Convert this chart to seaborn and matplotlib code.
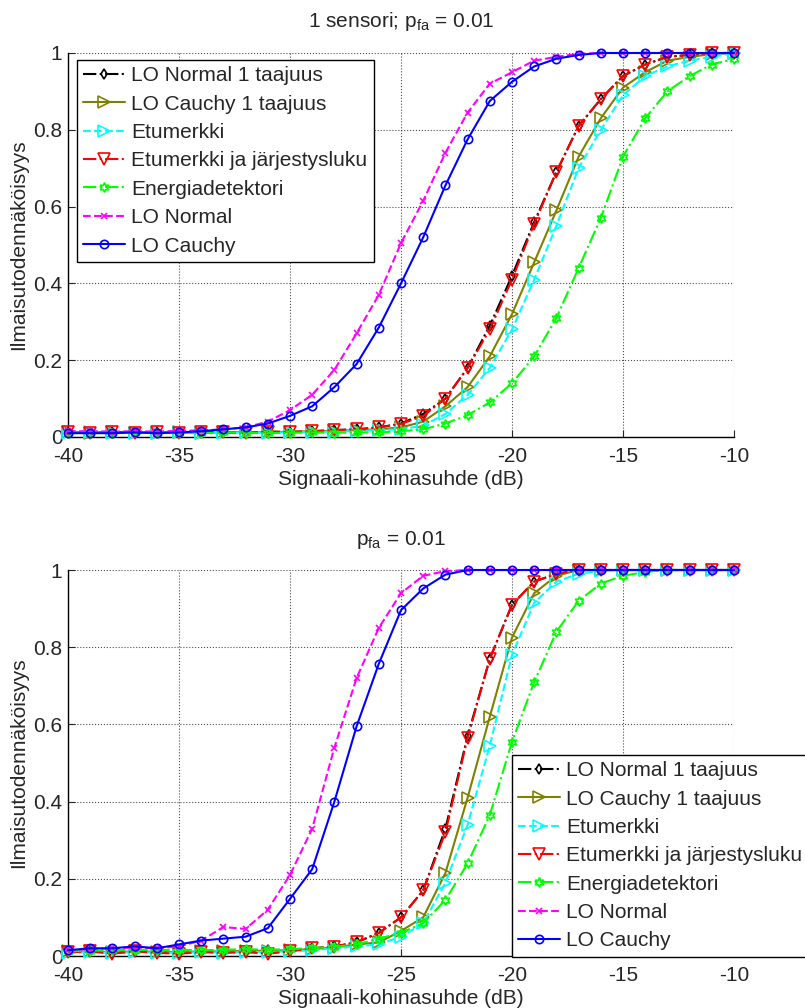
import numpy as np
import pandas as pd
import matplotlib
matplotlib.use("Agg")
import matplotlib.pyplot as plt
import seaborn as sns

snr = list(range(-40, -9))

# --- 1 sensori ---
top_lo_normal_1 = [0.012, 0.010, 0.013, 0.011, 0.012, 0.010, 0.013, 0.012, 0.011, 0.014, 0.013, 0.015, 0.018, 0.020,
                   0.025, 0.035, 0.06, 0.10, 0.18, 0.29, 0.42, 0.56, 0.69, 0.81, 0.88, 0.94, 0.97, 0.99, 0.995, 1.0, 1.0]
top_lo_cauchy_1 = [0.012, 0.011, 0.012, 0.010, 0.011, 0.012, 0.010, 0.012, 0.013, 0.012, 0.014, 0.015, 0.016, 0.018,
                   0.02, 0.025, 0.04, 0.08, 0.13, 0.21, 0.32, 0.455, 0.59, 0.73, 0.83, 0.91, 0.95, 0.98, 0.99, 0.997, 1.0]
top_etumerkki = [0.010, 0.012, 0.010, 0.011, 0.010, 0.012, 0.011, 0.010, 0.012, 0.011, 0.012, 0.013, 0.014, 0.016,
                 0.018, 0.02, 0.03, 0.06, 0.11, 0.18, 0.28, 0.41, 0.55, 0.70, 0.80, 0.89, 0.94, 0.965, 0.98, 0.99, 1.0]
top_etum_jarj = [0.012, 0.010, 0.013, 0.011, 0.012, 0.010, 0.013, 0.012, 0.011, 0.014, 0.013, 0.015, 0.018, 0.020,
                 0.025, 0.034, 0.055, 0.10, 0.18, 0.28, 0.41, 0.555, 0.69, 0.81, 0.88, 0.94, 0.97, 0.99, 0.995, 1.0, 1.0]
top_energia = [0.010, 0.011, 0.010, 0.012, 0.010, 0.011, 0.010, 0.012, 0.011, 0.010, 0.011, 0.012, 0.011, 0.012,
               0.012, 0.015, 0.02, 0.035, 0.057, 0.09, 0.14, 0.21, 0.31, 0.44, 0.57, 0.73, 0.83, 0.90, 0.94, 0.97, 0.985]
top_lo_normal = [0.015, 0.015, 0.014, 0.015, 0.014, 0.016, 0.017, 0.02, 0.025,
                 0.04, 0.07, 0.11, 0.175, 0.27, 0.37, 0.505, 0.615, 0.74, 0.845, 0.92, 0.95, 0.98, 0.99, 0.998,
                 1.0, 1.0, 1.0, 1.0, 1.0, 1.0, 1.0]
top_lo_cauchy = [0.01, 0.01, 0.01, 0.012, 0.01, 0.012,
                 0.015, 0.02, 0.025, 0.035, 0.055, 0.08, 0.13, 0.19, 0.285, 0.40, 0.52, 0.655, 0.775, 0.875,
                 0.925, 0.965, 0.985, 0.995, 1.0, 1.0, 1.0, 1.0, 1.0, 1.0, 1.0]

# --- useampi sensori ---
bot_lo_normal_1 = [0.010, 0.012, 0.008, 0.012, 0.010, 0.008, 0.012, 0.010, 0.012, 0.015, 0.015, 0.02, 0.025, 0.035,
                   0.06, 0.10, 0.17, 0.33, 0.57, 0.77, 0.91, 0.97, 0.99, 1.0, 1.0, 1.0, 1.0, 1.0, 1.0, 1.0, 1.0]
bot_lo_cauchy_1 = [0.012, 0.012, 0.010, 0.012, 0.011, 0.010, 0.012, 0.012, 0.013, 0.014, 0.015, 0.018, 0.022, 0.03,
                   0.035, 0.065, 0.10, 0.215, 0.41, 0.62, 0.825, 0.94, 0.985, 1.0, 1.0, 1.0, 1.0, 1.0, 1.0, 1.0, 1.0]
bot_etumerkki = [0.008, 0.010, 0.008, 0.010, 0.009, 0.008, 0.010, 0.009, 0.010, 0.011, 0.012, 0.015, 0.02, 0.025,
                 0.03, 0.05, 0.085, 0.19, 0.34, 0.545, 0.78, 0.915, 0.97, 0.99, 0.998, 1.0, 1.0, 1.0, 1.0, 1.0, 1.0]
bot_etum_jarj = [0.010, 0.012, 0.006, 0.012, 0.008, 0.006, 0.010, 0.008, 0.010, 0.006, 0.012, 0.02, 0.024, 0.036,
                 0.06, 0.10, 0.17, 0.32, 0.565, 0.77, 0.91, 0.97, 0.99, 1.0, 1.0, 1.0, 1.0, 1.0, 1.0, 1.0, 1.0]
bot_energia = [0.012, 0.014, 0.015, 0.016, 0.015, 0.016, 0.015, 0.016, 0.018, 0.016, 0.018, 0.02, 0.024, 0.03,
               0.045, 0.06, 0.085, 0.145, 0.24, 0.365, 0.555, 0.71, 0.84, 0.92, 0.965, 0.985, 0.995, 1.0, 1.0, 1.0, 1.0]
bot_lo_normal = [0.015, 0.018, 0.02, 0.022, 0.02, 0.025,
                 0.04, 0.075, 0.07, 0.12, 0.21, 0.33, 0.54, 0.72, 0.85, 0.94, 0.985, 0.997,
                 1.0, 1.0, 1.0, 1.0, 1.0, 1.0, 1.0, 1.0, 1.0, 1.0, 1.0, 1.0, 1.0]
bot_lo_cauchy = [0.015, 0.02, 0.02, 0.025, 0.02, 0.03,
                 0.04, 0.045, 0.05, 0.072, 0.148, 0.225, 0.40, 0.595, 0.757, 0.896, 0.952, 0.988,
                 1.0, 1.0, 1.0, 1.0, 1.0, 1.0, 1.0, 1.0, 1.0, 1.0, 1.0, 1.0, 1.0]

labels = ["LO Normal 1 taajuus", "LO Cauchy 1 taajuus", "Etumerkki", "Etumerkki ja järjestysluku",
          "Energiadetektori", "LO Normal", "LO Cauchy"]
top_series = [top_lo_normal_1, top_lo_cauchy_1, top_etumerkki, top_etum_jarj, top_energia, top_lo_normal, top_lo_cauchy]
bot_series = [bot_lo_normal_1, bot_lo_cauchy_1, bot_etumerkki, bot_etum_jarj, bot_energia, bot_lo_normal, bot_lo_cauchy]

# line styles (MATLAB-like)
styles = [
    dict(color="black", linestyle="-.", marker="d", ms=5),
    dict(color="#808000", linestyle="-", marker=">", ms=8),
    dict(color="#00ffff", linestyle="--", marker=">", ms=8),
    dict(color="#ff0000", linestyle="-.", marker="v", ms=8),
    dict(color="#00ff00", linestyle="-.", marker=(6, 1, 0), ms=7),
    dict(color="#ff00ff", linestyle="--", marker="x", ms=5),
    dict(color="#0000ff", linestyle="-", marker="o", ms=6),
]

sns.set_style("white")
plt.rcParams["font.family"] = ["Liberation Sans", "DejaVu Sans"]
plt.rcParams["mathtext.fontset"] = "custom"
plt.rcParams["mathtext.rm"] = "Liberation Sans"
plt.rcParams["mathtext.it"] = "Liberation Sans"
plt.rcParams["axes.unicode_minus"] = False

FS = 15

fig = plt.figure(figsize=(8.05, 10.08), dpi=100)
ax_top = fig.add_axes([68 / 805, 1 - 437 / 1008, 666 / 805, 384 / 1008])
ax_bot = fig.add_axes([68 / 805, 1 - 956 / 1008, 666 / 805, 386 / 1008])


def draw(ax, series, title, title_pad):
    for vals, lab, st in zip(series, labels, styles):
        sns.lineplot(x=snr, y=vals, ax=ax, label=lab, color=st["color"], linestyle=st["linestyle"],
                     marker=st["marker"], markersize=st["ms"], mfc="none", mec=st["color"], mew=1.2,
                     linewidth=1.5, clip_on=False, zorder=3)
    ax.set_xlim(-40, -10)
    ax.set_ylim(0, 1)
    ax.set_xticks(range(-40, -9, 5))
    ax.set_yticks([0, 0.2, 0.4, 0.6, 0.8, 1])
    ax.set_yticklabels(["0", "0.2", "0.4", "0.6", "0.8", "1"])
    ax.grid(True, color="black", linestyle=":", linewidth=0.8, alpha=0.7)
    ax.tick_params(direction="in", length=5, labelsize=FS, bottom=True, left=True)
    ax.tick_params(axis="x", pad=7)
    ax.tick_params(axis="y", pad=4)
    for s in ["top", "right"]:
        ax.spines[s].set_visible(False)
    for s in ["left", "bottom"]:
        ax.spines[s].set_color("black")
        ax.spines[s].set_linewidth(1.0)
    ax.set_xlabel("Signaali-kohinasuhde (dB)", fontsize=FS, labelpad=3)
    ax.set_ylabel("Ilmaisutodennäköisyys", fontsize=FS, labelpad=4)
    ax.set_title(title, fontsize=FS, pad=title_pad)


draw(ax_top, top_series, r"1 sensori; p$_{\mathrm{fa}}$ = 0.01", 19)
draw(ax_bot, bot_series, r"p$_{\mathrm{fa}}$ = 0.01", 18)

leg_kw = dict(fontsize=FS, frameon=True, fancybox=False, edgecolor="black", framealpha=1,
              handlelength=2.0, handletextpad=0.3, labelspacing=0.45, borderpad=0.3, borderaxespad=0)
leg1 = ax_top.legend(loc="upper left", bbox_to_anchor=(77 / 805, 1 - 60 / 1008),
                     bbox_transform=fig.transFigure, **leg_kw)
leg2 = ax_bot.legend(loc="upper left", bbox_to_anchor=(512 / 805, 1 - 755 / 1008),
                     bbox_transform=fig.transFigure, **leg_kw)
for leg in (leg1, leg2):
    leg.get_frame().set_linewidth(1.0)
    leg.set_zorder(10)

fig.savefig("out.png", dpi=100)
plt.close()
